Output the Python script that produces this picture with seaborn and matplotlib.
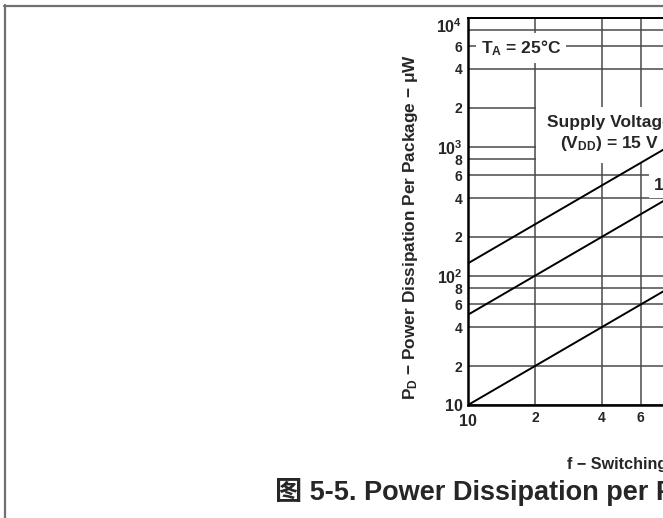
import numpy as np
import matplotlib.pyplot as plt
import pandas as pd
import seaborn as sns
from matplotlib.lines import Line2D
from matplotlib.ticker import FixedLocator, NullLocator

# values (straight lines on log-log)
freq = [10, 100]
pd_15v = [125, 1250]
pd_10v = [50, 500]
pd_5v = [10, 100]

ytick_vals = [10, 20, 40, 60, 80, 100, 200, 400, 600, 800, 1000, 2000, 4000, 6000, 8000, 10000]
ytick_labels = ['10', '2', '4', '6', '8', '10$^2$', '2', '4', '6', '8', '10$^3$', '2', '4', '6', '', '10$^4$']
xtick_vals = [10, 20, 40, 60, 80, 100]
xtick_labels = ['', '2', '4', '6', '8', '10$^2$']

sns.set_style('white')
plt.rcParams['font.family'] = ['Liberation Sans', 'Noto Sans CJK SC']
plt.rcParams['font.weight'] = 'bold'
plt.rcParams['mathtext.fontset'] = 'custom'
plt.rcParams['mathtext.rm'] = 'Liberation Sans:bold'
plt.rcParams['mathtext.it'] = 'Liberation Sans:bold'
plt.rcParams['mathtext.bf'] = 'Liberation Sans:bold'
plt.rcParams['mathtext.default'] = 'rm'

df = pd.DataFrame({
    'f': freq * 3,
    'pd': pd_15v + pd_10v + pd_5v,
    'vdd': ['15 V'] * 2 + ['10 V'] * 2 + ['5 V'] * 2,
})

W, H = 663, 518
fig = plt.figure(figsize=(W / 100, H / 100), dpi=100)
ax = fig.add_axes([468 / W, 113 / H, 222 / W, 387.5 / H])

sns.lineplot(data=df, x='f', y='pd', hue='vdd', palette=['black'] * 3,
             estimator=None, legend=False, lw=1.4, ax=ax, zorder=5)

ax.set_xscale('log')
ax.set_yscale('log')
ax.set_xlim(10, 100)
ax.set_ylim(10, 10000)
ax.xaxis.set_major_locator(FixedLocator(xtick_vals))
ax.yaxis.set_major_locator(FixedLocator(ytick_vals))
ax.xaxis.set_minor_locator(NullLocator())
ax.yaxis.set_minor_locator(NullLocator())
ax.set_xticklabels(xtick_labels)
ax.set_yticklabels(ytick_labels)
ax.set_xlabel('')
ax.set_ylabel('')

ax.set_axisbelow(True)
ax.grid(True, which='major', color='#4a4a4a', lw=1.1)
ax.tick_params(length=0, pad=4)
for lab in ax.get_yticklabels():
    lab.set_fontsize(11.5 if lab.get_text().startswith('10') else 10)
    lab.set_fontweight('bold')
ax.get_yticklabels()[-1].set_va('top')
for lab in ax.get_xticklabels():
    lab.set_fontsize(10)
    lab.set_fontweight('bold')

for side in ['left', 'bottom', 'top']:
    ax.spines[side].set_linewidth(1.8)
    ax.spines[side].set_color('black')
ax.spines['top'].set_linewidth(1.4)

# bottom-left "10" of the frequency axis sits a little lower
fig.text(468 / W, 1 - 422 / H, '10', ha='center', va='center', fontsize=11.5, fontweight='bold')

box = dict(facecolor='white', edgecolor='none', boxstyle='square,pad=0.3')
ax.text(481 / W, 1 - 48 / H, 'T$_A$ = 25°C', transform=fig.transFigure, fontsize=12.5,
        fontweight='bold', ha='left', va='center', bbox=box, zorder=3)
ax.text(609 / W, 1 - 134 / H, 'Supply Voltage\n(V$_{DD}$) = 15 V', transform=fig.transFigure,
        fontsize=12.5, fontweight='bold', ha='center', va='center', multialignment='center',
        linespacing=1.25, bbox=dict(facecolor='white', edgecolor='none', boxstyle='square,pad=0.6'),
        zorder=3)
ax.text(654 / W, 1 - 185 / H, '10 V', transform=fig.transFigure, fontsize=12.5,
        fontweight='bold', ha='left', va='center', bbox=box, zorder=3)

fig.text(411 / W, 1 - 227 / H, 'P$_D$ − Power Dissipation Per Package − μW', rotation=90,
         ha='center', va='center', fontsize=12.4, fontweight='bold')
fig.text(567 / W, 1 - 465 / H, 'f − Switching Frequency − kHz', ha='left', va='center',
         fontsize=11.6, fontweight='bold')
fig.text(275 / W, 1 - 492 / H, '图 5-5. Power Dissipation per Package vs Frequency', ha='left',
         va='center', fontsize=19.5, fontweight='bold')

# page frame lines
fig.add_artist(Line2D([4.5 / W, 4.5 / W], [0, 1 - 5 / H], color='#707070', lw=1.6))
fig.add_artist(Line2D([4 / W, 1], [1 - 5.5 / H, 1 - 5.5 / H], color='#707070', lw=1.6))

fig.savefig('out.png', dpi=100)
